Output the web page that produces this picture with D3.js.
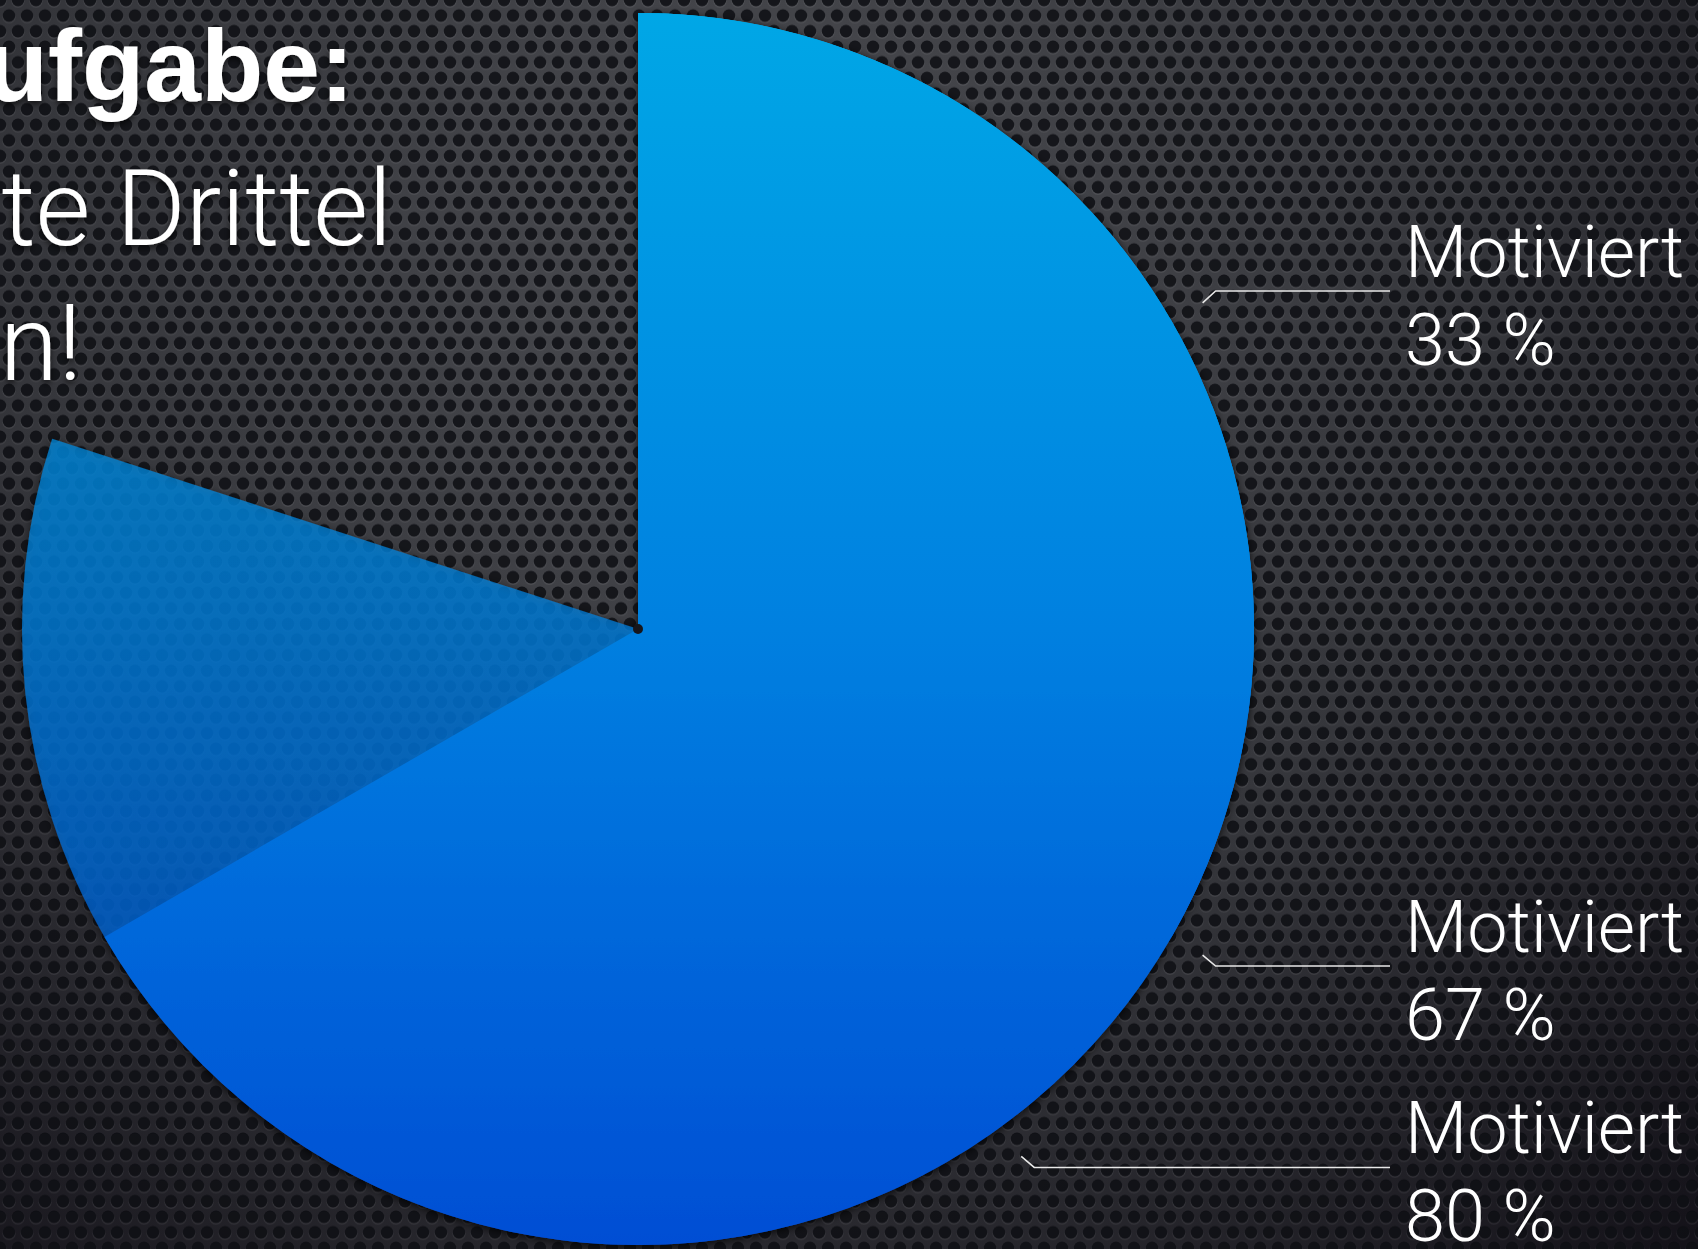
<!DOCTYPE html>
<html lang="de">
<head>
<meta charset="UTF-8">
<title>Motiviert</title>
<script src="https://d3js.org/d3.v7.min.js"></script>
<style>
  html, body { margin: 0; padding: 0; background: #222326; overflow: hidden; }
  svg { display: block; font-family: Roboto, "Liberation Sans", sans-serif; }
  .title-bold { font-family: "Liberation Sans", Arial, sans-serif; font-weight: 700; fill: #fff; }
  .title-light { font-weight: 300; fill: #fff; }
  .label { font-weight: 300; fill: #fff; font-size: 72px; }
  .leader { fill: none; stroke: #e8e8e8; stroke-width: 1.6; }
</style>
</head>
<body>
<script>
// chart data
const labels = ["Motiviert", "Motiviert", "Motiviert"];
const values = [33.33, 66.67, 80];            // percent, every slice starts at 12 o'clock
const titleLines = ["ufgabe:", "te Drittel", "n!"];

const W = 1698, H = 1249;
const cx = 638, cy = 629, radius = 616;

const svg = d3.select("body").append("svg")
    .attr("width", W)
    .attr("height", H);

const defs = svg.append("defs");

// vignette behind the metal plate
const vig = defs.append("radialGradient")
    .attr("id", "vig")
    .attr("gradientUnits", "userSpaceOnUse")
    .attr("cx", 760).attr("cy", 260).attr("r", 1350);
vig.append("stop").attr("offset", 0).attr("stop-color", "#4a4b50");
vig.append("stop").attr("offset", 0.55).attr("stop-color", "#35363b");
vig.append("stop").attr("offset", 1).attr("stop-color", "#141219");

// perforated holes
const hx = 18, hy = 15.6;
const pat = defs.append("pattern")
    .attr("id", "holes")
    .attr("patternUnits", "userSpaceOnUse")
    .attr("width", hx).attr("height", hy * 2);
[[0, 0], [hx, 0], [hx / 2, hy], [0, hy * 2], [hx, hy * 2]].forEach(([x, y]) => {
  pat.append("circle").attr("cx", x).attr("cy", y + 1.3).attr("r", 6.6)
      .attr("fill", "rgba(255,255,255,0.07)");
  pat.append("circle").attr("cx", x).attr("cy", y).attr("r", 6.3)
      .attr("fill", "#0b0c10").attr("fill-opacity", 0.85);
});

svg.append("rect").attr("width", W).attr("height", H).attr("fill", "url(#vig)");
svg.append("rect").attr("width", W).attr("height", H).attr("fill", "url(#holes)");

// pie gradient, in the pie's own coordinates
const blue = defs.append("linearGradient")
    .attr("id", "blue")
    .attr("gradientUnits", "userSpaceOnUse")
    .attr("x1", 0).attr("y1", -radius)
    .attr("x2", 0).attr("y2", radius);
blue.append("stop").attr("offset", 0).attr("stop-color", "#00a7e6");
blue.append("stop").attr("offset", 0.5).attr("stop-color", "#0080e0");
blue.append("stop").attr("offset", 1).attr("stop-color", "#004ed4");

const shadow = defs.append("filter").attr("id", "shadow")
    .attr("x", "-10%").attr("y", "-10%").attr("width", "120%").attr("height", "120%");
shadow.append("feDropShadow").attr("dx", 0).attr("dy", 2)
    .attr("stdDeviation", 4).attr("flood-color", "#000").attr("flood-opacity", 0.8);

const txtShadow = defs.append("filter").attr("id", "tshadow")
    .attr("x", "-10%").attr("y", "-20%").attr("width", "120%").attr("height", "140%");
txtShadow.append("feDropShadow").attr("dx", 0).attr("dy", 3)
    .attr("stdDeviation", 3).attr("flood-color", "#000").attr("flood-opacity", 0.7);

// title (cut off on the left in the original slide)
const title = svg.append("g").attr("filter", "url(#tshadow)");
title.append("text").attr("class", "title-bold")
    .attr("x", 354).attr("y", 101)
    .attr("text-anchor", "end")
    .attr("font-size", 102)
    .text(titleLines[0]);
title.append("text").attr("class", "title-light")
    .attr("x", 392).attr("y", 245)
    .attr("text-anchor", "end")
    .attr("font-size", 106)
    .text(titleLines[1]);
title.append("text").attr("class", "title-light")
    .attr("x", 82).attr("y", 380)
    .attr("text-anchor", "end")
    .attr("font-size", 106)
    .text(titleLines[2]);

// pie: each slice runs from 0 to its value
const angle = d3.scaleLinear().domain([0, 100]).range([0, 2 * Math.PI]);
const data = values.map((v, i) => ({ label: labels[i], value: v, i }));

const arc = d3.arc()
    .innerRadius(0)
    .outerRadius(radius)
    .startAngle(0)
    .endAngle(d => angle(d.value));

const pie = svg.append("g")
    .attr("transform", `translate(${cx},${cy})`)
    .attr("filter", "url(#shadow)");

pie.selectAll("path")
    .data(data.slice().sort((a, b) => b.value - a.value))
    .join("path")
    .attr("d", arc)
    .attr("fill", "url(#blue)")
    .attr("fill-opacity", d => d.i === 2 ? 0.7 : 1);

pie.append("circle").attr("r", 5).attr("fill", "#15161a");

// labels with leader lines
const fmt = d3.format(".0f");
const labelArc = d3.arc().innerRadius(radius + 36).outerRadius(radius + 36);
const lineEnd = 1390, textX = 1405;

const lab = svg.append("g").attr("transform", `translate(${cx},${cy})`);
data.forEach(d => {
  const mid = angle(d.value) / 2;
  const p = labelArc.centroid({ startAngle: mid, endAngle: mid });
  const up = p[1] < 0;
  const ly = p[1] + (up ? -12 : 11);
  lab.append("path").attr("class", "leader")
      .attr("d", `M${p[0]},${p[1]}L${p[0] + 13},${ly}L${lineEnd - cx},${ly}`);
  lab.append("text").attr("class", "label")
      .attr("x", textX - cx).attr("y", ly - 14)
      .text(d.label);
  lab.append("text").attr("class", "label")
      .attr("x", textX - cx).attr("y", ly + 74)
      .text(fmt(d.value) + " %");
});
</script>
</body>
</html>
